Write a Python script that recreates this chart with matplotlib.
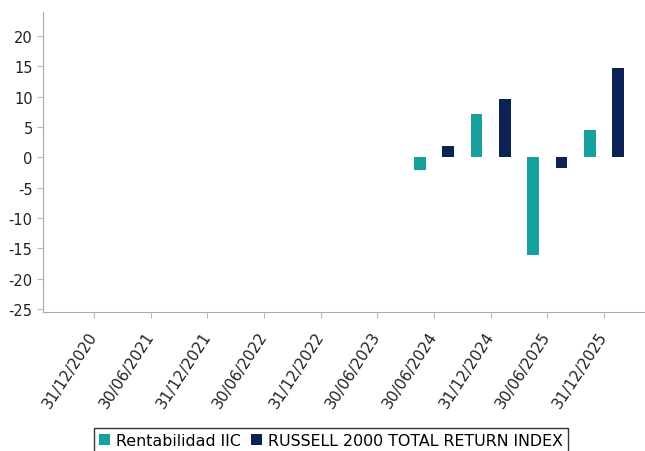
import numpy as np
import matplotlib
matplotlib.use("Agg")
import matplotlib.pyplot as plt

plt.rcParams["axes.unicode_minus"] = False

# categories (x tick labels) and the two series
fechas = ["31/12/2020", "30/06/2021", "31/12/2021", "30/06/2022", "31/12/2022",
          "30/06/2023", "30/06/2024", "31/12/2024", "30/06/2025", "31/12/2025"]
rent_iic = [np.nan, np.nan, np.nan, np.nan, np.nan, np.nan, -2.0, 7.2, -16.1, 4.6]
russell = [np.nan, np.nan, np.nan, np.nan, np.nan, np.nan, 1.8, 9.6, -1.75, 14.8]
series_names = ["Rentabilidad IIC", "RUSSELL 2000 TOTAL RETURN INDEX"]
yticks = [20, 15, 10, 5, 0, -5, -10, -15, -20, -25]

teal = "#17a09e"
navy = "#0c2256"

fig = plt.figure(figsize=(6.45, 4.52), dpi=100)
ax = fig.add_axes([0.0667, 0.3075, 0.94, 0.664])

x = np.arange(len(fechas))
w = 0.21
ax.bar(x - 0.25, rent_iic, w, color=teal, label=series_names[0])
ax.bar(x + 0.25, russell, w, color=navy, label=series_names[1])

ax.set_xlim(-0.9, 9.8)
ax.set_ylim(-25.5, 24)
ax.set_yticks(yticks)
ax.set_xticks(x)
ax.set_xticklabels(fechas, rotation=57, ha="right", va="center",
                   rotation_mode="anchor", fontsize=11)
ax.tick_params(axis="y", labelsize=10.5)
ax.tick_params(axis="both", color="#bbbbbb", length=4, labelcolor="#222222")
ax.tick_params(axis="x", pad=11)

for s in ["top", "right"]:
    ax.spines[s].set_visible(False)
for s in ["left", "bottom"]:
    ax.spines[s].set_color("#aaaaaa")

leg = fig.legend(loc="upper center", bbox_to_anchor=(0.513, 0.068), ncol=2,
                 fontsize=11.4, frameon=True, fancybox=False, edgecolor="black",
                 handlelength=0.7, handleheight=0.7, handletextpad=0.4,
                 columnspacing=0.6, borderpad=0.3)
leg.get_frame().set_linewidth(1.0)

fig.savefig("out.png", dpi=100)
